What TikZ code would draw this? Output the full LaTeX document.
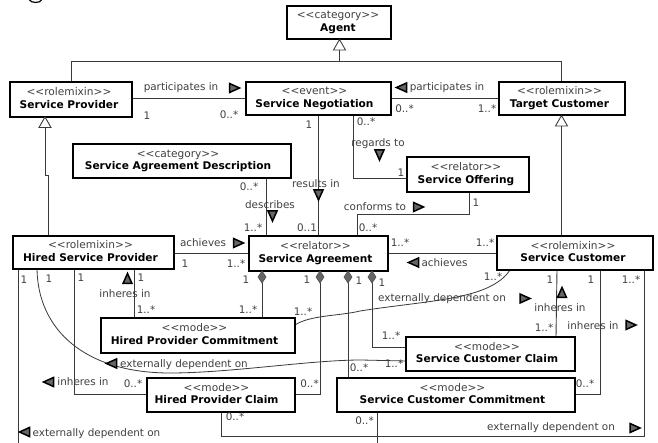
\documentclass[tikz,border=0pt]{standalone}
\usepackage{fontspec}
\setmainfont{DejaVu Sans}
\definecolor{lbl}{HTML}{404040}
\definecolor{wire}{HTML}{3A3A3A}
\newcommand{\Cls}[8]{% name, left, top, right, bottom, stereotype, title, text shift to the left
  \node[umlbox, minimum width={(#4)-(#2)}, minimum height={(#5)-(#3)}] (#1) at ({((#2)+(#4))/2},{((#3)+(#5))/2})
    {\begin{tabular}{@{}c@{}}{\color{lbl}<{}<#6>{}>}\\[0pt]\textbf{#7}\end{tabular}\hspace{#8pt}};}
\newcommand{\Lab}[3]{\node[lab] at (#1,#2) {#3};}
\newcommand{\TR}[2]{\path[flow] (#1,#2-4.5) -- (#1+10,#2) -- (#1,#2+4.5) -- cycle;}
\newcommand{\TL}[2]{\path[flow] (#1+10,#2-4.5) -- (#1,#2) -- (#1+10,#2+4.5) -- cycle;}
\newcommand{\TD}[2]{\path[flow] (#1-4.5,#2) -- (#1+4.5,#2) -- (#1,#2+10) -- cycle;}
\newcommand{\TU}[2]{\path[flow] (#1-4.5,#2+10) -- (#1+4.5,#2+10) -- (#1,#2) -- cycle;}
\newcommand{\Dia}[2]{\path[dia] (#1,#2) -- (#1+4,#2+6) -- (#1,#2+12) -- (#1-4,#2+6) -- cycle;}
\newcommand{\Gen}[2]{\path[gen] (#1,#2) -- (#1+6,#2+10.5) -- (#1-6,#2+10.5) -- cycle;}
\tikzset{
  x=1pt,y=-1pt,
  umlbox/.style={draw=black,line width=1.4pt,fill=white,inner sep=0pt,font=\fontsize{10.6}{12.5}\selectfont,align=center},
  lab/.style={text=lbl,inner sep=0pt,font=\fontsize{10.4}{12}\selectfont},
  wireline/.style={draw=wire,line width=0.9pt},
  flow/.style={draw=black,line width=1.5pt,fill=black!60,line join=miter},
  dia/.style={draw=black!70,line width=0.6pt,fill=black!60},
  gen/.style={draw=wire,line width=0.9pt,fill=white},
}
\begin{document}
\begin{tikzpicture}
\useasboundingbox (0,0) rectangle (658,443);
\fill[white] (0,0) rectangle (658,443);
\draw[black,line width=1.2pt] (29.5,0) .. controls (31,3) and (40,3.5) .. (41.5,0);
% connectors first
\draw[wireline] (71,82) -- (71,61.5) -- (561.5,61.5) -- (561.5,82);
\draw[wireline] (339.5,61.5) -- (339.5,50);
\draw[wireline] (132,98.5) -- (246,98.5);
\draw[wireline] (391,98) -- (499,98);
\draw[wireline] (318,115) -- (318,236);
\draw[wireline] (353,115) -- (353,178.5) -- (407,178.5);
\draw[wireline] (266,178) -- (266,236);
\draw[wireline] (469.5,192) -- (469.5,214.5) -- (357,214.5) -- (357,236);
\draw[wireline] (45,127) -- (45,175.5) -- (48.5,175.5) -- (48.5,236);
\draw[wireline] (561,125) -- (561,236);
\draw[wireline] (174,253) -- (249,253);
\draw[wireline] (388,253) -- (497,253);
\draw[wireline] (18.5,269) -- (18.5,443);
\draw[wireline] (74,269) -- (74,394) -- (147,394);
\draw[wireline] (134,269) -- (134,318);
\draw[wireline] (262,283) -- (262,318);
\draw[wireline] (320,283) -- (320,394) -- (295,394);
\draw[wireline] (348,283) -- (348,378);
\draw[wireline] (372,283) -- (372,347) -- (406,347);
\draw[wireline] (557,270) -- (556,337);
\draw[wireline] (600,270) -- (600,394) -- (575,394);
\draw[wireline] (644,270) -- (644,436) -- (221,436) -- (221,412);
\draw[wireline] (377,412) -- (377,443);
\draw[wireline,line width=0.8pt] (37,269) .. controls (38,330) and (85,373) .. (170,373) .. controls (230,373) and (310,360) .. (361,360) -- (406,361);
\draw[wireline,line width=0.8pt] (295,325) .. controls (310,315) and (340,316) .. (360,311) .. controls (430,300) and (490,300) .. (510,270);
% classes
\Cls{agent}{287}{6}{391}{39}{category}{Agent}{2}
\Cls{sp}{10}{82}{132}{117}{rolemixin}{Service Provider}{4}
\Cls{sn}{246}{82}{391}{115}{event}{Service Negotiation}{8}
\Cls{tc}{499}{82}{625}{115}{rolemixin}{Target Customer}{5}
\Cls{sad}{73}{144}{291}{178}{category}{Service Agreement Description}{8}
\Cls{so}{407}{157}{529}{192}{relator}{Service Offering}{4}
\Cls{hsp}{13}{236}{174}{269}{rolemixin}{Hired Service Provider}{6}
\Cls{sa}{249}{236}{388}{271}{relator}{Service Agreement}{6}
\Cls{sc}{497}{236}{653}{270}{rolemixin}{Service Customer}{4}
\Cls{hpc}{101}{318}{295}{353}{mode}{Hired Provider Commitment}{7}
\Cls{hpl}{147}{378}{295}{412}{mode}{Hired Provider Claim}{9}
\Cls{scl}{406}{337}{575}{371}{mode}{Service Customer Claim}{7}
\Cls{scc}{337}{378}{575}{412}{mode}{Service Customer Commitment}{7}
% heads
\Gen{339.5}{39.5}
\Gen{45}{117}
\Gen{561.5}{115.5}
\Dia{262}{271}
\Dia{320}{271}
\Dia{348}{271}
\Dia{372}{271}
\TR{229.5}{88} \TL{396.5}{87.5}
\TD{272.5}{211} \TD{318.5}{190}
\TD{379.5}{150} \TR{413.5}{207}
\TR{233.5}{243} \TL{408.5}{262.5}
\TU{127.5}{273.5} \TU{562}{287.5}
\TR{520}{298.5} \TR{626}{325}
\TL{106.5}{363.5} \TL{43.5}{382}
\TL{19.5}{432} \TR{630}{428}
% labels
\Lab{181}{88}{participates in}
\Lab{147}{116}{1}
\Lab{229}{115}{0..*}
\Lab{447}{88}{participates in}
\Lab{404.5}{109}{0..*}
\Lab{487}{109}{1..*}
\Lab{309}{125}{1}
\Lab{249}{187}{0..*}
\Lab{270}{205}{describes}
\Lab{316}{184}{results in}
\Lab{253}{228}{1..*}
\Lab{307}{228}{0..1}
\Lab{366}{122}{0..*}
\Lab{378}{144}{regards to}
\Lab{401}{173}{1}
\Lab{375}{207}{conforms to}
\Lab{476}{203}{1}
\Lab{368}{228}{0..*}
\Lab{203}{243}{achieves}
\Lab{185}{264}{1}
\Lab{236}{264}{1..*}
\Lab{400}{243}{1..*}
\Lab{485}{243}{1..*}
\Lab{444.5}{263}{achieves}
\Lab{493}{277}{1..*}
\Lab{442}{299}{externally dependent on}
\Lab{550}{280}{1}
\Lab{560}{308}{inheres in}
\Lab{544}{328}{1..*}
\Lab{591}{280}{1}
\Lab{631}{280}{1..*}
\Lab{593}{326}{inheres in}
\Lab{585}{384}{0..*}
\Lab{551}{428}{externally dependent on}
\Lab{364.5}{421}{0..*}
\Lab{359}{281}{1}
\Lab{382}{283}{1}
\Lab{391}{336}{1..*}
\Lab{394}{364}{1..*}
\Lab{359}{368}{0..*}
\Lab{24}{280}{1}
\Lab{49}{279}{1}
\Lab{81}{278}{1}
\Lab{141}{278}{1}
\Lab{125}{294}{inheres in}
\Lab{146}{310}{1..*}
\Lab{248}{310}{1..*}
\Lab{246}{280}{1}
\Lab{307}{280}{1}
\Lab{303}{312}{1..*}
\Lab{184}{365}{externally dependent on}
\Lab{83}{382}{inheres in}
\Lab{133}{384}{0..*}
\Lab{309.5}{384}{0..*}
\Lab{235}{417}{0..*}
\Lab{96.5}{434}{externally dependent on}
\end{tikzpicture}
\end{document}
